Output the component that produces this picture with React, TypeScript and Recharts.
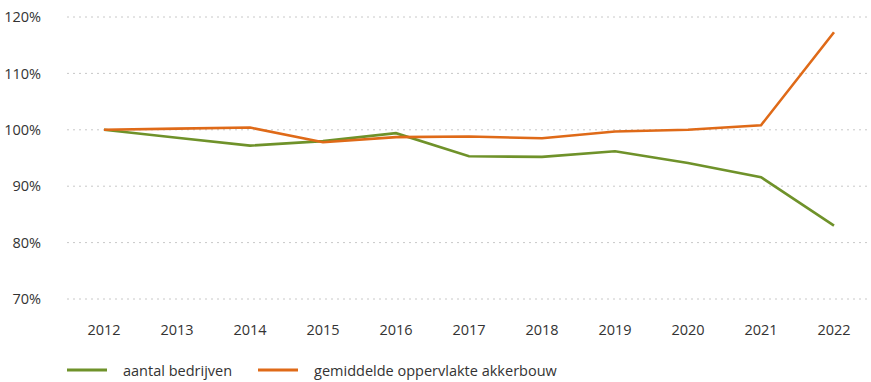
import { LineChart, Line, XAxis, YAxis, CartesianGrid, Legend } from "recharts"

// index 2012 = 100%
const years = ["2012", "2013", "2014", "2015", "2016", "2017", "2018", "2019", "2020", "2021", "2022"]
const aantalBedrijven = [100, 98.6, 97.2, 98.0, 99.4, 95.3, 95.2, 96.2, 94.1, 91.6, 83.0]
const oppervlakteAkkerbouw = [100, 100.2, 100.4, 97.8, 98.7, 98.8, 98.5, 99.7, 100.0, 100.8, 117.3]
const yTicks = [70, 80, 90, 100, 110, 120]

const GREEN = "#6f922a"
const ORANGE = "#df6a18"
const FONT = "'Open Sans', sans-serif"

const series = [
  { key: "bedrijven", name: "aantal bedrijven", color: GREEN },
  { key: "akkerbouw", name: "gemiddelde oppervlakte akkerbouw", color: ORANGE },
]

const data = years.map((year, i) => ({
  year,
  bedrijven: aantalBedrijven[i],
  akkerbouw: oppervlakteAkkerbouw[i],
}))

function LegendRow() {
  return (
    <div style={{ display: "flex", alignItems: "center", height: 24, paddingTop: 3, paddingLeft: 67, fontFamily: FONT, fontSize: 14.5, color: "#333" }}>
      {series.map((s) => (
        <div key={s.key} style={{ display: "flex", alignItems: "center", marginRight: 26 }}>
          <svg width={40} height={4} style={{ marginRight: 16 }}>
            <line x1={0} y1={2} x2={40} y2={2} stroke={s.color} strokeWidth={3} />
          </svg>
          <span>{s.name}</span>
        </div>
      ))}
    </div>
  )
}

export default function App() {
  return (
    <div style={{ position: "absolute", left: 0, top: 0, background: "#fff" }}>
      <LineChart width={871} height={382} data={data} margin={{ top: 17, right: 0, bottom: 0, left: 0 }}>
        <CartesianGrid vertical={false} stroke="#c8c8c8" strokeDasharray="2 4" />
        <XAxis
          dataKey="year"
          axisLine={false}
          tickLine={false}
          tickSize={0}
          tickMargin={26}
          height={56}
          padding={{ left: 37, right: 37 }}
          tick={{ fill: "#333", fontSize: 14.5, fontFamily: FONT }}
        />
        <YAxis
          domain={[70, 120]}
          ticks={yTicks}
          width={67}
          axisLine={false}
          tickLine={false}
          tickSize={0}
          tickMargin={26}
          tickFormatter={(v) => `${v}%`}
          tick={{ fill: "#333", fontSize: 14.5, fontFamily: FONT }}
        />
        <Legend verticalAlign="bottom" align="left" content={() => <LegendRow />} />
        {series.map((s) => (
          <Line
            key={s.key}
            dataKey={s.key}
            name={s.name}
            stroke={s.color}
            strokeWidth={2.6}
            dot={false}
            activeDot={false}
            isAnimationActive={false}
          />
        ))}
      </LineChart>
    </div>
  )
}
